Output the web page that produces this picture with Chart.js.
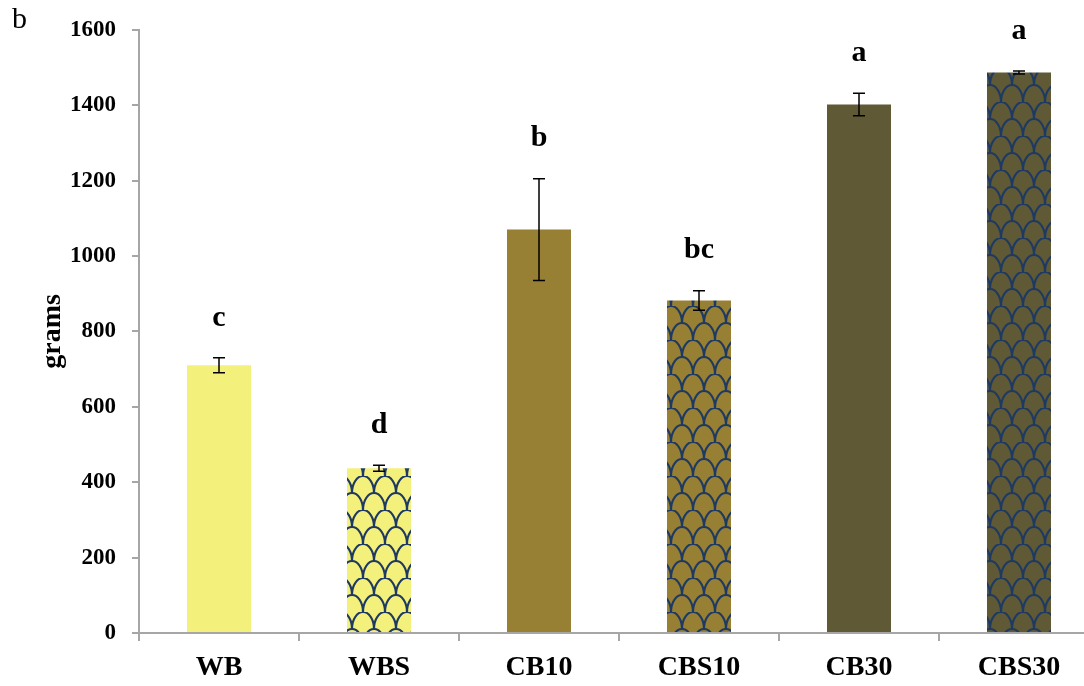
<!DOCTYPE html>
<html>
<head>
<meta charset="utf-8">
<script src="https://cdn.jsdelivr.net/npm/chart.js@4.4.1/dist/chart.umd.min.js"></script>
<style>
  html, body { margin: 0; padding: 0; background: #fff; overflow: hidden; }
  #wrap { width: 1100px; height: 686px; }
</style>
</head>
<body>
<div id="wrap"><canvas id="chart" width="1100" height="686"></canvas></div>
<script>
// data
const categories = ['WB', 'WBS', 'CB10', 'CBS10', 'CB30', 'CBS30'];
const means = [710, 437, 1070, 882, 1402, 1487];
const errors = [20, 8, 135, 26, 30, 4];
const letters = ['c', 'd', 'b', 'bc', 'a', 'a'];
const yTicks = [0, 200, 400, 600, 800, 1000, 1200, 1400, 1600];

const baseColors = ['#f4f07c', '#f4f07c', '#977f33', '#977f33', '#5f5936', '#5f5936'];
const patterned = [false, true, false, true, false, true];
const FONT = '"Liberation Serif", "DejaVu Serif", serif';
const AXIS = '#a6a6a6';

// scale hatch used by the "S" bars
function makePattern(base) {
  const w = 22, h = 34;
  const c = document.createElement('canvas');
  c.width = w; c.height = h;
  const g = c.getContext('2d');
  g.fillStyle = base;
  g.fillRect(0, 0, w, h);
  g.strokeStyle = '#1f3a62';
  g.lineWidth = 2.2;
  [[w / 2, h / 2], [0, h], [w, h]].forEach(([cx, cy]) => {
    g.beginPath();
    g.ellipse(cx, cy, w / 2, h / 2, 0, Math.PI, 2 * Math.PI);
    g.stroke();
  });
  return g.createPattern(c, 'repeat');
}

const ctx = document.getElementById('chart').getContext('2d');
const fills = baseColors.map((col, i) => patterned[i] ? makePattern(col) : col);

const extrasPlugin = {
  id: 'extras',
  afterDatasetsDraw(chart) {
    const c = chart.ctx;
    const y = chart.scales.y;
    const meta = chart.getDatasetMeta(0);
    c.save();
    meta.data.forEach((bar, i) => {
      const top = y.getPixelForValue(means[i] + errors[i]);
      const bot = y.getPixelForValue(means[i] - errors[i]);
      c.strokeStyle = '#000';
      c.lineWidth = 1.5;
      c.beginPath();
      c.moveTo(bar.x, top); c.lineTo(bar.x, bot);
      c.moveTo(bar.x - 6, top); c.lineTo(bar.x + 6, top);
      c.moveTo(bar.x - 6, bot); c.lineTo(bar.x + 6, bot);
      c.stroke();
      c.fillStyle = '#000';
      c.font = 'bold 30px ' + FONT;
      c.textAlign = 'center';
      c.textBaseline = 'middle';
      c.fillText(letters[i], bar.x, top - 40);
    });
    c.font = '30px ' + FONT;
    c.textAlign = 'left';
    c.textBaseline = 'middle';
    c.fillText('b', 12, 20);
    c.restore();
  }
};

new Chart(ctx, {
  type: 'bar',
  data: {
    labels: categories,
    datasets: [{
      data: means,
      backgroundColor: fills,
      borderWidth: 0,
      barPercentage: 0.4,
      categoryPercentage: 1
    }]
  },
  options: {
    responsive: false,
    animation: false,
    layout: { padding: { top: 25, right: 1, left: 0, bottom: 0 } },
    plugins: { legend: { display: false }, tooltip: { enabled: false } },
    scales: {
      x: {
        grid: { drawOnChartArea: false, tickLength: 8, color: AXIS, lineWidth: 2 },
        border: { color: AXIS, width: 2 },
        ticks: { color: '#000', font: { family: FONT, size: 28, weight: 'bold' }, padding: 10 },
        afterFit: s => { s.height = 53; }
      },
      y: {
        min: 0,
        max: 1600,
        afterBuildTicks: s => { s.ticks = yTicks.map(v => ({ value: v })); },
        grid: { drawOnChartArea: false, tickLength: 7, color: AXIS, lineWidth: 2 },
        border: { color: AXIS, width: 2 },
        ticks: {
          color: '#000',
          font: { family: FONT, size: 23, weight: 'bold' },
          padding: 16,
          callback: v => String(v)
        },
        title: {
          display: true,
          text: 'grams',
          color: '#000',
          font: { family: FONT, size: 28, weight: 'bold' },
          padding: { top: 36, bottom: 0 }
        },
        afterFit: s => { s.width = 139; }
      }
    }
  },
  plugins: [extrasPlugin]
});
</script>
</body>
</html>
